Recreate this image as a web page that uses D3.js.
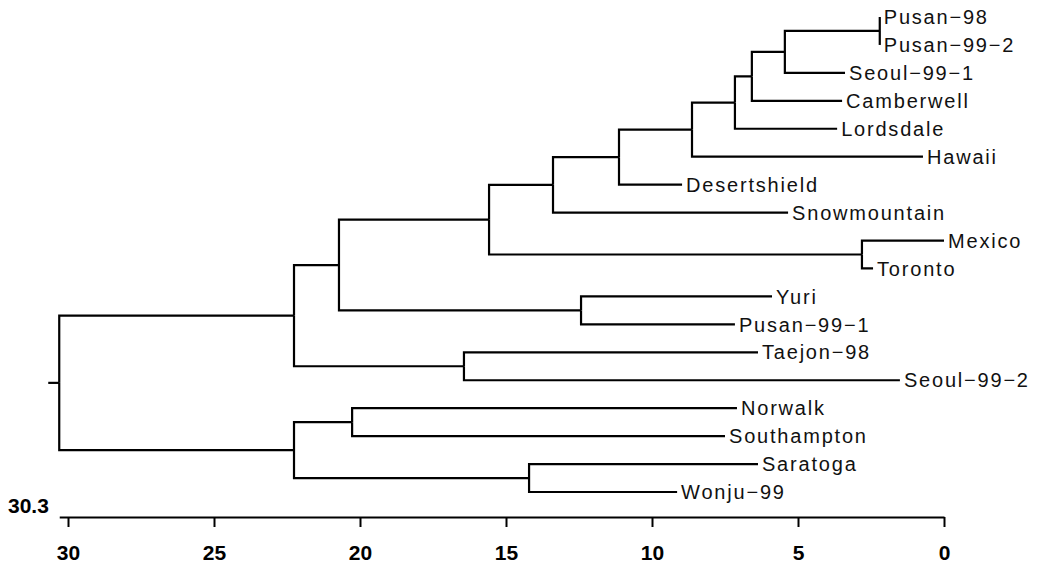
<!DOCTYPE html>
<html>
<head>
<meta charset="utf-8">
<script src="https://cdn.jsdelivr.net/npm/d3@7"></script>
<style>
  body { margin: 0; background: #fff; }
  .link { fill: none; stroke: #000; stroke-width: 2.2; }
  .leaf-label { font-family: "Liberation Sans", Arial, sans-serif; font-size: 20px; letter-spacing: 1.8px; fill: #111; }
  .axis text { font-family: "Liberation Sans", Arial, sans-serif; font-size: 21px; font-weight: bold; fill: #000; }
  .axis path, .axis line { stroke: #000; stroke-width: 2; }
</style>
</head>
<body>
<div class="dendro"></div>
<script>
// leaves, top to bottom
var leaves = ["Pusan−98", "Pusan−99−2", "Seoul−99−1", "Camberwell", "Lordsdale", "Hawaii",
  "Desertshield", "Snowmountain", "Mexico", "Toronto", "Yuri", "Pusan−99−1",
  "Taejon−98", "Seoul−99−2", "Norwalk", "Southampton", "Saratoga", "Wonju−99"];

// where each leaf branch ends on the distance axis
var leafDist = [2.2, 2.2, 3.39, 3.49, 3.66, 0.72,
  8.97, 5.34, 0.0, 2.43, 5.89, 7.16,
  6.37, 1.51, 7.09, 7.5, 6.37, 9.14];

// merges: two members (leaf name or "#i" = earlier merge) and the join distance
var mergeA = ["Pusan−98", "#0", "#1", "#2", "#3", "#4", "#5", "Mexico", "#6", "Yuri", "#8", "Taejon−98", "#10", "Norwalk", "Saratoga", "#13", "#12"];
var mergeB = ["Pusan−99−2", "Seoul−99−1", "Camberwell", "Lordsdale", "Hawaii", "Desertshield", "Snowmountain", "Toronto", "#7", "Pusan−99−1", "#9", "Seoul−99−2", "#11", "Southampton", "Wonju−99", "#14", "#15"];
var mergeDist = [2.2, 5.45, 6.58, 7.16, 8.63, 11.13, 13.39, 2.81, 15.58, 12.43, 20.72, 16.44, 22.26, 20.27, 14.21, 22.26, 30.3];

var axisTicks = [30, 25, 20, 15, 10, 5, 0];
var rootLabel = "30.3";

var width = 1047, height = 568;

var svg = d3.select(".dendro")
    .append("svg")
    .attr("width", width)
    .attr("height", height);

// build the tree from the merge list
var built = [];
function member(key) {
  if (key.charAt(0) === "#") return built[+key.slice(1)];
  return { name: key, dist: leafDist[leaves.indexOf(key)] };
}
mergeA.forEach(function(a, i) {
  built.push({ name: "#" + i, dist: mergeDist[i], children: [member(a), member(mergeB[i])] });
});
var root = d3.hierarchy(built[built.length - 1]);

var x = d3.scaleLinear()
    .domain([30, 0])
    .range([68, 944]);

var y = d3.scalePoint()
    .domain(leaves)
    .range([17, 492]);

// leaves get their row, inner nodes sit half way between their children
root.eachAfter(function(d) {
  if (d.children) {
    d.y = d3.mean(d.children, function(c) { return c.y; });
  } else {
    d.y = y(d.data.name);
  }
  d.x = x(d.data.dist);
});

// elbow links
svg.append("g")
  .selectAll("path")
  .data(root.links())
  .enter().append("path")
    .attr("class", "link")
    .attr("d", function(l) {
      return "M" + l.source.x + "," + l.source.y + "V" + l.target.y + "H" + l.target.x;
    });

// little stub left of the root
svg.append("path")
    .attr("class", "link")
    .attr("d", "M" + (root.x - 11) + "," + root.y + "H" + root.x);

// leaf names
svg.append("g")
  .selectAll("text")
  .data(root.leaves())
  .enter().append("text")
    .attr("class", "leaf-label")
    .attr("x", function(d) { return d.x + 4; })
    .attr("y", function(d) { return d.y; })
    .attr("dy", "0.36em")
    .text(function(d) { return d.data.name; });

// distance axis
var axisG = svg.append("g")
    .attr("class", "axis")
    .attr("transform", "translate(0,517)");

axisG.call(d3.axisBottom(x.copy().domain([30.3, 0]).range([x(30.3), x(0)]))
    .tickValues(axisTicks)
    .tickFormat(d3.format("d"))
    .tickSize(10)
    .tickSizeOuter(0)
    .tickPadding(18));

axisG.append("text")
    .attr("x", 8)
    .attr("y", -4)
    .attr("text-anchor", "start")
    .text(rootLabel);
</script>
</body>
</html>
